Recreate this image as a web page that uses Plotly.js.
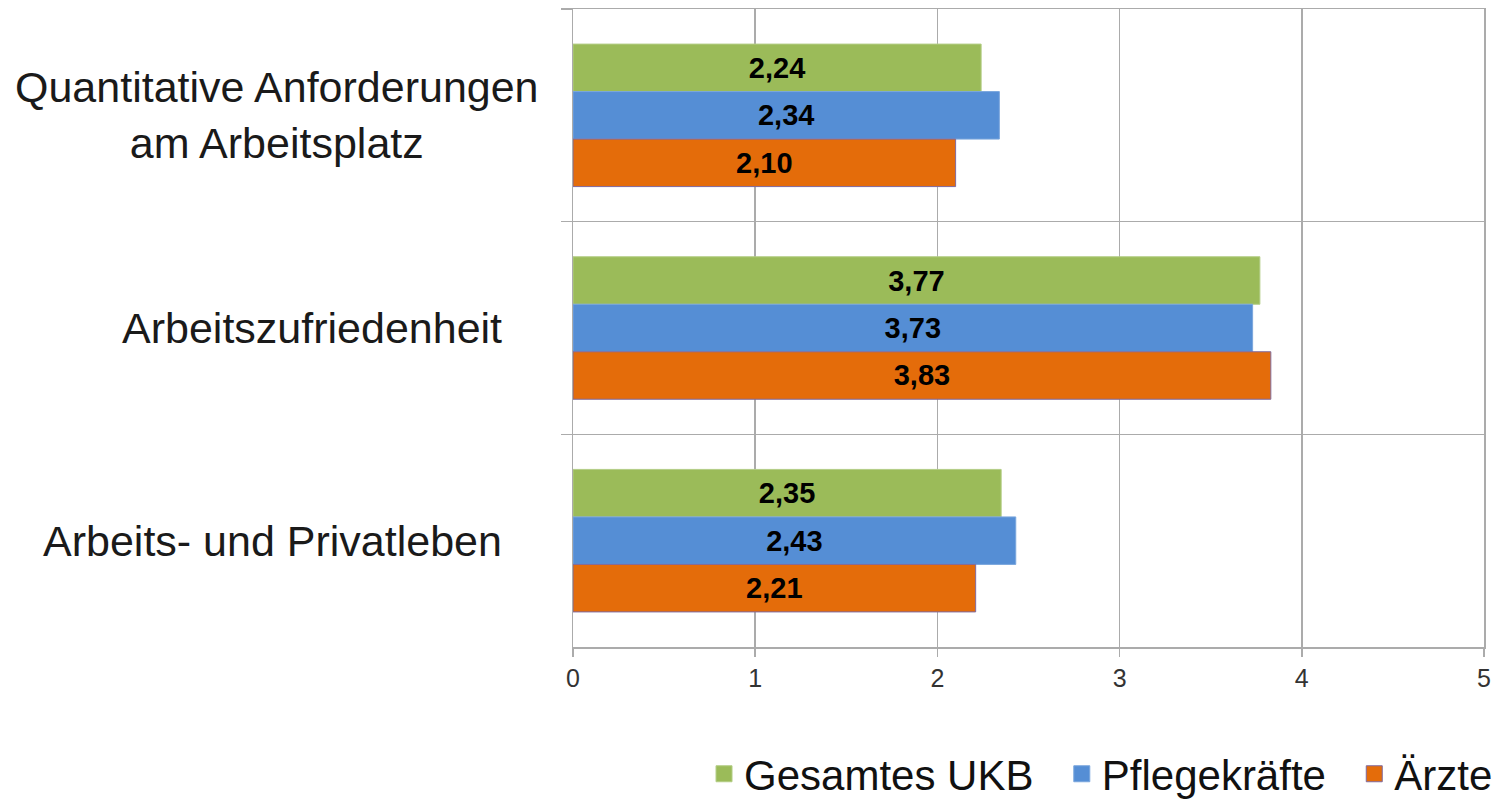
<!DOCTYPE html>
<html>
<head>
<meta charset="utf-8">
<script src="https://cdn.plot.ly/plotly-3.0.1.min.js"></script>
<style>html,body{margin:0;padding:0;background:#fff;}#chart{width:1496px;height:799px;}</style>
</head>
<body>
<div id="chart"></div>
<script>
const categories = ["Quantitative Anforderungen am Arbeitsplatz", "Arbeitszufriedenheit", "Arbeits- und Privatleben"];
const categoryLabels = ["Quantitative Anforderungen<br>am Arbeitsplatz", "Arbeitszufriedenheit", "Arbeits- und Privatleben"];
const seriesNames = ["Gesamtes UKB", "Pflegekräfte", "Ärzte"];
const gesamtesUKB = [2.24, 3.77, 2.35];
const pflegekraefte = [2.34, 3.73, 2.43];
const aerzte = [2.10, 3.83, 2.21];
const xTicks = [0, 1, 2, 3, 4, 5];

const seriesValues = [gesamtesUKB, pflegekraefte, aerzte];
const colors = ["#9BBB59", "#558ED5", "#E46C0A"];
const borders = ["#b3cd85", "#7aa6dd", "#7f6a9f"];
const labelX = [-0.325, -0.287, -0.330];
const legendPad = ["\u00a0\u00a0", "\u00a0\u00a0", ""];
const FONT = "Liberation Sans, Arial, sans-serif";

const traces = seriesValues.map((vals, i) => ({
  type: "bar",
  orientation: "h",
  name: seriesNames[i],
  y: categories,
  x: vals,
  marker: {color: colors[i], line: {color: borders[i], width: 1}},
  texttemplate: "%{x:.2f}",
  textposition: "inside",
  insidetextanchor: "middle",
  textangle: 0,
  textfont: {family: FONT, size: 29, color: "#000", weight: "bold"},
  showlegend: false,
  hoverinfo: "x+name"
}));

seriesNames.forEach((n, i) => {
  traces.push({
    type: "scatter",
    mode: "markers",
    name: n + legendPad[i],
    x: [null],
    y: [null],
    marker: {symbol: "square", size: 20, color: colors[i], line: {color: borders[i], width: 1}},
    showlegend: true,
    hoverinfo: "skip"
  });
});

const annotations = categories.map((c, i) => ({
  xref: "paper", yref: "y",
  x: labelX[i], y: c,
  xanchor: "center", yanchor: "middle",
  text: categoryLabels[i],
  showarrow: false,
  align: "center",
  font: {family: FONT, size: 43, color: "#1a1a1a"}
}));

const layout = {
  width: 1496, height: 799,
  margin: {l: 573, r: 12, t: 9, b: 152, autoexpand: false},
  paper_bgcolor: "#fff", plot_bgcolor: "#fff",
  separators: ",.",
  barmode: "group",
  bargap: 0.33,
  bargroupgap: 0,
  font: {family: FONT, color: "#222"},
  xaxis: {
    range: [0, 5],
    tickvals: xTicks,
    ticktext: xTicks.map(String),
    showgrid: true, gridcolor: "#ababab", gridwidth: 1.5,
    zeroline: false,
    showline: true, linecolor: "#ababab", linewidth: 1.5, mirror: true,
    ticks: "outside", ticklen: 8, tickcolor: "#ababab", tickwidth: 1.5,
    tickfont: {family: FONT, size: 25, color: "#333"}
  },
  yaxis: {
    type: "category",
    categoryorder: "array",
    categoryarray: categories,
    autorange: "reversed",
    tickson: "boundaries",
    showgrid: true, gridcolor: "#ababab", gridwidth: 1.5,
    showline: true, linecolor: "#ababab", linewidth: 1.5, mirror: true,
    ticks: "outside", ticklen: 11, tickcolor: "#ababab", tickwidth: 1.5,
    showticklabels: false,
    zeroline: false
  },
  legend: {
    orientation: "h",
    x: 1.0154, xanchor: "right",
    y: -0.199, yanchor: "middle",
    font: {family: FONT, size: 42, color: "#111"},
    bgcolor: "rgba(0,0,0,0)",
    itemwidth: 30,
    tracegroupgap: 0
  },
  annotations: annotations
};

Plotly.newPlot("chart", traces, layout, {displayModeBar: false, staticPlot: true});
</script>
</body>
</html>
